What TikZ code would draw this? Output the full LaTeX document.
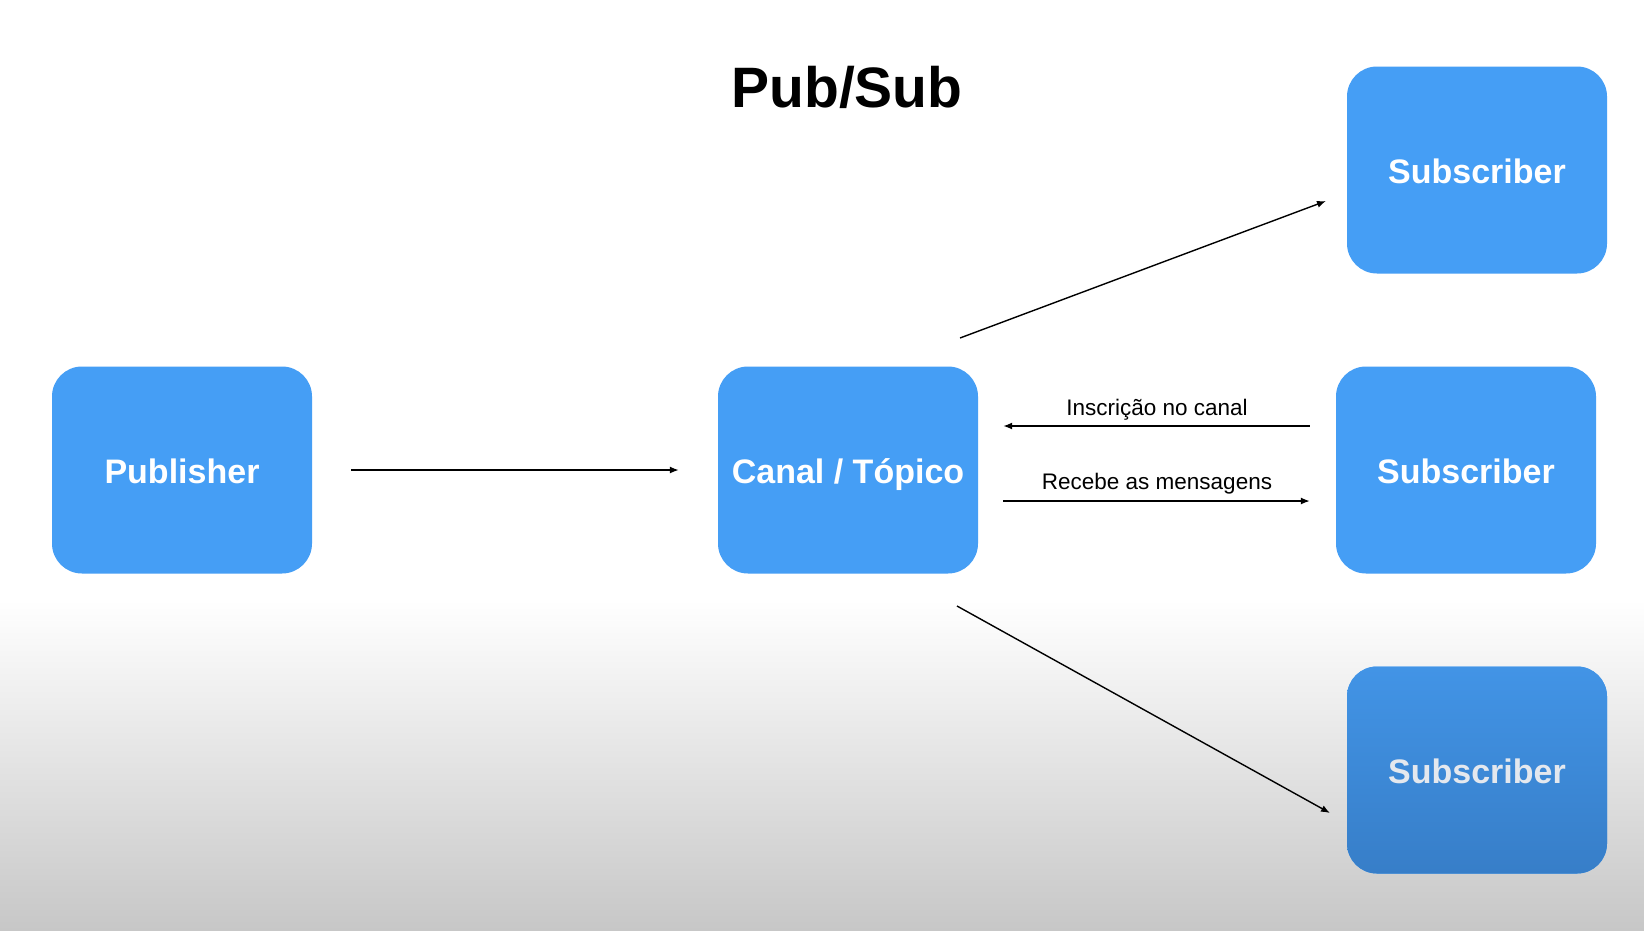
\documentclass[tikz,border=0pt]{standalone}
\usepackage{fontspec}
\setmainfont{Liberation Sans}
\usetikzlibrary{arrows.meta}
\definecolor{boxblue}{RGB}{69,158,245}
\definecolor{boxdarktop}{RGB}{66,148,230}
\definecolor{boxdarkbot}{RGB}{55,126,200}
\definecolor{bggray}{RGB}{199,199,199}
\definecolor{dimtext}{RGB}{228,232,238}
\tikzset{
  box/.style={rectangle, rounded corners=30pt, minimum width=260pt, minimum height=207pt,
    inner sep=0pt, text height=30pt, text depth=4pt, fill=boxblue, text=white,
    font=\fontsize{34}{40}\selectfont\bfseries},
  dimbox/.style={box, top color=boxdarktop, bottom color=boxdarkbot, text=dimtext},
  conn/.style={draw=black, line width=1.4pt, -{Latex[length=9pt,width=7pt]}},
  lbl/.style={font=\fontsize{22.5}{26}\selectfont, text=black, inner sep=0pt},
}
\begin{document}
\begin{tikzpicture}[x=1pt,y=-1pt]
\useasboundingbox (0,0) rectangle (1644,930);
\fill[white] (0,0) rectangle (1644,600);
\shade[top color=white, bottom color=bggray] (0,600) rectangle (1644,930);

\node[font=\fontsize{57}{66}\selectfont\bfseries] (title) at (847,87) {Pub/Sub};

\node[box] (pub) at (182,470) {Publisher};
\node[box] (canal) at (848,470) {Canal / Tópico};
\node[box] (sub1) at (1477,170) {Subscriber};
\node[box] (sub2) at (1466,470) {Subscriber};
\node[dimbox] (sub3) at (1477,770) {Subscriber};

\draw[conn, shorten <=39pt, shorten >=39pt] (pub.east) -- (canal.west);

\coordinate (d1s) at (960,338);
\coordinate (d1e) at (1326,201);
\coordinate (d2s) at (957,606);
\coordinate (d2e) at (1330,813);
\draw[conn] (d1s) -- (d1e);
\draw[conn] (d2s) -- (d2e);

\draw[conn, shorten <=26pt, shorten >=25pt] ([yshift=44pt]sub2.west) -- ([yshift=44pt]canal.east)
  node[lbl, midway, above=5pt] (l1) {Inscrição no canal};
\draw[conn, shorten <=25pt, shorten >=26pt] ([yshift=-31pt]canal.east) -- ([yshift=-31pt]sub2.west)
  node[lbl, midway, above=6pt] (l2) {Recebe as mensagens};
\end{tikzpicture}
\end{document}
